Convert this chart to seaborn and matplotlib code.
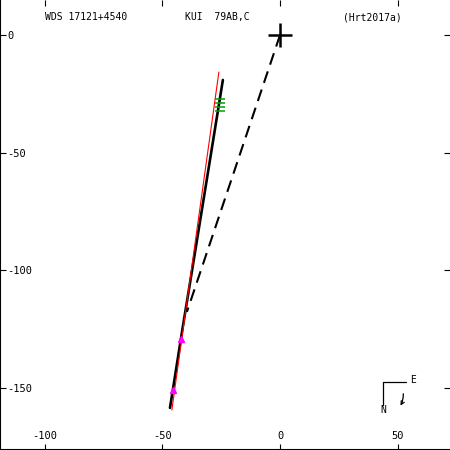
import pandas as pd
import matplotlib
matplotlib.use("Agg")
import matplotlib.pyplot as plt
import seaborn as sns

# orbit data
orbit_x = [-24.3, -30.1, -36.1, -41.5, -46.8]
orbit_y = [-19.1, -55.0, -92.0, -125.0, -158.5]
red_x = [-26.0, -46.0]
red_y = [-15.7, -159.4]
node_x = [0.0, -39.6]
node_y = [0.0, -117.7]
green_x = [-25.5, -25.6, -25.4, -25.5]
green_y = [-27.3, -28.8, -30.7, -32.3]
mag_x = [-42.3, -45.7]
mag_y = [-129.3, -150.9]
xticks = [-100, -50, 0, 50]
yticks = [0, -50, -100, -150]

sns.set_style("white")
plt.rcParams['font.family'] = ['DejaVu Sans Mono']
plt.rcParams['axes.unicode_minus'] = False
plt.rcParams['text.color'] = 'black'

fig = plt.figure(figsize=(4.5, 4.5), dpi=100)
ax = fig.add_axes([0, 0, 1, 1])

orbit = pd.DataFrame({'x': orbit_x, 'y': orbit_y})
sns.lineplot(data=orbit, x='x', y='y', sort=False, color='black', lw=1.9, ax=ax)
sns.lineplot(x=red_x, y=red_y, sort=False, color='red', lw=0.8, ax=ax)
sns.lineplot(x=node_x, y=node_y, sort=False, color='black', lw=1.5,
             linestyle=(0, (5.8, 3.4)), ax=ax)
ax.plot(green_x, green_y, ls='none', marker='_', ms=7, mew=1.1, color='#00a000')
ax.plot(mag_x, mag_y, ls='none', marker='^', ms=5, color='magenta')
ax.plot([0], [0], marker='+', ms=17, mew=1.8, color='black')

ax.set_xlim(-119.1, 72.3)
ax.set_ylim(-176.4, 14.9)
ax.set_xticks(xticks)
ax.set_yticks(yticks)
ax.set_xlabel('')
ax.set_ylabel('')
ax.tick_params(direction='in', length=4, width=0.8, top=True, right=True,
               bottom=True, left=True, labelsize=7.5,
               colors='black', labelcolor='black')
ax.tick_params(axis='x', pad=-14)
ax.tick_params(axis='y', pad=-5.5)
for lab in ax.get_yticklabels():
    lab.set_ha('left')
for side in ['top', 'right']:
    ax.spines[side].set_visible(False)
for side in ['left', 'bottom']:
    ax.spines[side].set_color('black')
    ax.spines[side].set_linewidth(1.5)

# header
fig.text(45 / 450, 1 - 17 / 450, 'WDS 17121+4540', fontsize=7, va='center')
fig.text(185 / 450, 1 - 17 / 450, 'KUI  79AB,C', fontsize=7, va='center')
fig.text(343 / 450, 1 - 17 / 450, '(Hrt2017a)', fontsize=7, va='center')

# compass
fig.add_artist(plt.Line2D([383 / 450, 383 / 450, 406 / 450],
                          [1 - 405 / 450, 1 - 381.5 / 450, 1 - 381.5 / 450],
                          color='black', lw=0.9))
fig.text(410 / 450, 1 - 380 / 450, 'E', fontsize=7, va='center')
fig.text(383 / 450, 1 - 410 / 450, 'N', fontsize=7, va='center', ha='center')
ax.annotate('', xy=(399 / 450, 1 - 408 / 450), xytext=(403 / 450, 1 - 391 / 450),
            xycoords='figure fraction', textcoords='figure fraction',
            arrowprops=dict(arrowstyle='->', lw=0.9, color='black',
                            connectionstyle='arc3,rad=-0.2',
                            mutation_scale=6))

fig.savefig('out.png', dpi=100)
